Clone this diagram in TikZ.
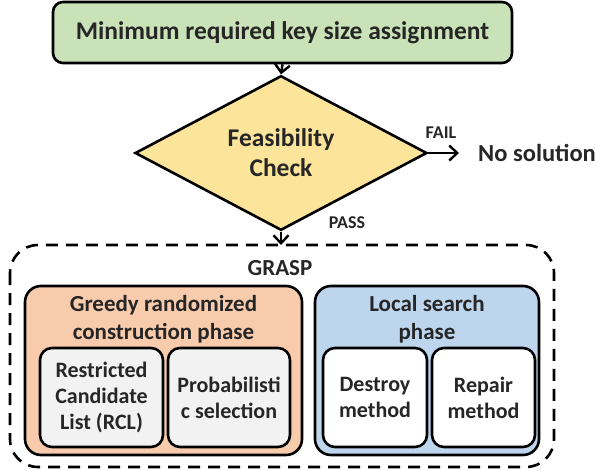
\documentclass[tikz,border=0pt]{standalone}
\usepackage{fontspec}
\setmainfont{Carlito}
\usetikzlibrary{shapes.geometric,arrows.meta}
\definecolor{boxgreen}{HTML}{C9E2B8}
\definecolor{boxyellow}{HTML}{FCE49A}
\definecolor{boxorange}{HTML}{F7CBAC}
\definecolor{boxblue}{HTML}{BDD6EE}
\definecolor{boxgray}{HTML}{F2F2F2}
\tikzset{
  flowline/.style={line width=2.4pt, -{Straight Barb[length=8pt,width=15pt,line width=2.4pt]}},
  outline/.style={draw=black, line width=2.6pt, rounded corners=#1},
  outline/.default=10pt,
  bigtext/.style={font=\bfseries\fontsize{25.5}{30}\selectfont, text=black!85},
  phasetext/.style={font=\bfseries\fontsize{23}{28}\selectfont, align=center, text=black!85},
  innertext/.style={font=\bfseries\fontsize{22}{26}\selectfont, align=center, text=black!85},
  smalltext/.style={font=\bfseries\fontsize{18}{20}\selectfont, text=black!85},
}
\begin{document}
\begin{tikzpicture}[x=1pt,y=-1pt]
\useasboundingbox (0,0) rectangle (597,471);

% start box
\node[outline=10pt, fill=boxgreen, minimum width=459pt, minimum height=61pt, bigtext]
  (start) at (282.5,32.5) {Minimum required key size assignment};

% feasibility test
\node[diamond, draw=black, line width=2.6pt, fill=boxyellow, inner sep=0pt,
  minimum width=292pt, minimum height=120pt, bigtext, align=center]
  (check) at (281,153) {Feasibility\\Check};

\node[bigtext, anchor=west, inner sep=0pt, font=\bfseries\fontsize{24.5}{28}\selectfont]
  (nosol) at (478,153) {No solution};
\node[smalltext] (fail) at (441,133) {FAIL};
\node[smalltext] (pass) at (347,223) {PASS};

% GRASP frame
\draw[line width=2.6pt, dash pattern=on 12pt off 8pt, rounded corners=28pt]
  (10,245) rectangle (554,467);
\coordinate (grasptop) at (281,245);
\node[phasetext] (grasp) at (280,268) {GRASP};

\draw[flowline] (start.south) -- (check.north);
\draw[flowline, shorten >=19pt] (check.east) -- (nosol.west);
\draw[flowline] (check.south) -- (grasptop);

% construction phase
\node[outline=16pt, fill=boxorange, minimum width=277pt, minimum height=169pt]
  (constr) at (163.5,370.5) {};
\node[phasetext] (constrlbl) at (163.5,319) {Greedy randomized\\construction phase};
\node[outline=12pt, fill=boxgray, minimum width=123pt, minimum height=99pt, innertext]
  (rcl) at (101.5,397.5) {Restricted\\Candidate\\List (RCL)};
\node[outline=12pt, fill=boxgray, minimum width=122pt, minimum height=99pt, innertext]
  (prob) at (229,397.5) {Probabilisti\\c selection};

% local search phase
\node[outline=16pt, fill=boxblue, minimum width=224pt, minimum height=169pt]
  (local) at (427,370.5) {};
\node[phasetext] (locallbl) at (427,319) {Local search\\phase};
\node[outline=12pt, fill=white, minimum width=104pt, minimum height=99pt, innertext]
  (destroy) at (375,397.5) {Destroy\\method};
\node[outline=12pt, fill=white, minimum width=103pt, minimum height=99pt, innertext]
  (repair) at (483.5,397.5) {Repair\\method};
\end{tikzpicture}
\end{document}
